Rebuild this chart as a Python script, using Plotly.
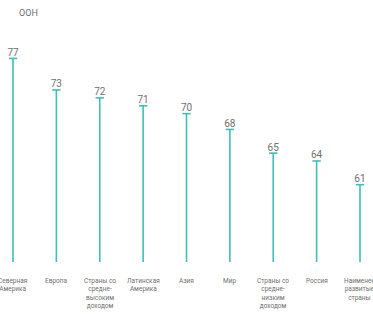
import plotly.graph_objects as go

categories = ["Северная<br>Америка", "Европа", "Страны со<br>средне-<br>высоким<br>доходом",
              "Латинская<br>Америка", "Азия", "Мир", "Страны со<br>средне-<br>низким<br>доходом",
              "Россия", "Наименее<br>развитые<br>страны"]
values = [77, 73, 72, 71, 70, 68, 65, 64, 61]
baseline = 51.2

teal = "#3fbfb6"
grey = "#707070"

xs = list(range(len(values)))
lx, ly = [], []
for i, v in zip(xs, values):
    lx += [i, i, None]
    ly += [baseline, v, None]

fig = go.Figure()
fig.add_trace(go.Scatter(x=lx, y=ly, mode="lines", line=dict(color=teal, width=1.6),
                         hoverinfo="skip", showlegend=False))
fig.add_trace(go.Scatter(x=xs, y=values, mode="markers",
                         marker=dict(symbol="line-ew", size=6, line=dict(color=teal, width=1.6)),
                         showlegend=False))
fig.add_trace(go.Scatter(x=xs, y=values, mode="text", text=[str(v) for v in values],
                         textposition="top center",
                         textfont=dict(family="Roboto", size=10, color=grey),
                         showlegend=False))

for i, c in zip(xs, categories):
    fig.add_annotation(x=i, xref="x", y=-0.055, yref="paper", text=c, showarrow=False,
                       xanchor="center", yanchor="top", align="center",
                       font=dict(family="Roboto", size=6.5, color=grey))

fig.add_annotation(xref="paper", yref="paper", x=17/373, y=1 + (30 - 13) / 232,
                   xanchor="left", yanchor="middle",
                   text="ООН", showarrow=False, font=dict(family="Roboto", size=9, color=grey))

fig.update_layout(
    width=373, height=317,
    margin=dict(l=0, r=0, t=30, b=55),
    plot_bgcolor="white", paper_bgcolor="white",
    xaxis=dict(range=[-0.30, 8.30], visible=False, fixedrange=True),
    yaxis=dict(range=[baseline, 80.6], visible=False, fixedrange=True),
)
fig.write_html("out.html", config={"displayModeBar": False},
               post_script="document.body.style.margin='0';document.body.style.overflow='hidden';")
